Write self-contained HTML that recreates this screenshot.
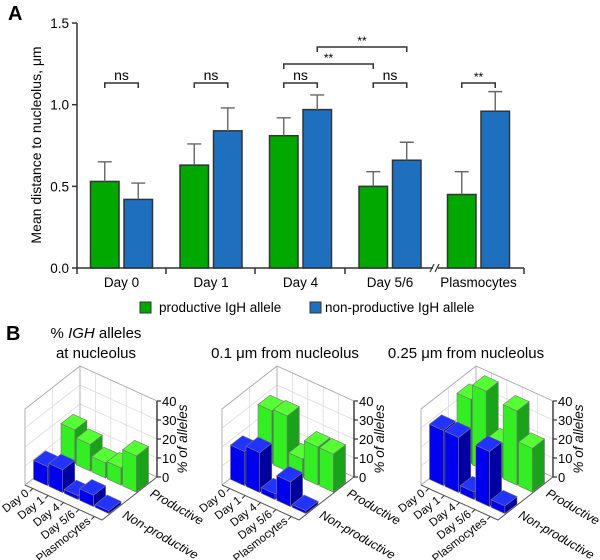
<!DOCTYPE html>
<html><head><meta charset="utf-8"><style>
html,body{margin:0;padding:0;background:#fff;}
svg{display:block;font-family:"Liberation Sans",sans-serif;}
</style></head><body>
<svg id="fig" width="600" height="560" viewBox="0 0 600 560" xmlns="http://www.w3.org/2000/svg">
<text x="8" y="20" font-size="20" font-weight="bold">A</text>
<text x="6" y="340" font-size="20" font-weight="bold">B</text>
<text transform="translate(41,145) rotate(-90)" text-anchor="middle" font-size="14">Mean distance to nucleolus, μm</text>
<g id="chartA"></g>
<g>
<rect x="140" y="302" width="11" height="11" fill="#00a800" stroke="#333"/>
<text x="159" y="312" font-size="13.5">productive IgH allele</text>
<rect x="310" y="302" width="11" height="11" fill="#1f6fbf" stroke="#333"/>
<text x="325" y="312" font-size="13.5">non-productive IgH allele</text>
</g>
<text x="96" y="338" text-anchor="middle" font-size="15">% <tspan font-style="italic">IGH</tspan> alleles</text>
<text x="96" y="358" text-anchor="middle" font-size="15">at nucleolus</text>
<text x="285" y="358" text-anchor="middle" font-size="15">0.1 μm from nucleolus</text>
<text x="466" y="358" text-anchor="middle" font-size="15">0.25 μm from nucleolus</text>
<g id="chartB"></g>
</svg>
<script>
// ---- Chart A data ----
const groups = ["Day 0","Day 1","Day 4","Day 5/6","Plasmocytes"];
const prodVals = [0.53,0.63,0.81,0.50,0.45];
const prodErr = [0.12,0.13,0.11,0.09,0.14];
const nonVals = [0.42,0.84,0.97,0.66,0.96];
const nonErr = [0.10,0.14,0.09,0.11,0.12];
const yTicks = [0.0,0.5,1.0,1.5];
const yTickLabels = ["0.0","0.5","1.0","1.5"];
const sigPairs = [[0,"ns"],[1,"ns"],[2,"ns"],[3,"ns"],[4,"**"]];

// ---- Chart B data ----
const days3d = ["Day 0","Day 1","Day 4","Day 5/6","Plasmocytes"];
const rows3d = ["Non-productive","Productive"];
const zTicks = [0,10,20,30,40];
const b1Prod = [18,14,8,9,19];
const b1Non = [10,12,2,6,1.5];
const b2Prod = [28,29,10,20,20];
const b2Non = [18,21,3,13,1.5];
const b3Prod = [34,42,18,39,23];
const b3Non = [29,29,4,29,4];

const NS="http://www.w3.org/2000/svg";
function mk(tag,attrs,parent){const e=document.createElementNS(NS,tag);for(const k in attrs)e.setAttribute(k,attrs[k]);parent.appendChild(e);return e;}

// ---- Chart A ----
const A=document.getElementById('chartA');
const y0=268, ppu=163.3;
function yS(v){return y0-v*ppu;}
function barLeft(i,s){
  const c = i<4 ? 77+89.5*i+44.5 : 478.5;
  return s===0 ? c-31 : c+2.5;
}
const bw=28.5;
let e=mk('line',{x1:77,y1:23,x2:77,y2:268,stroke:'#333','stroke-width':1.5},A);

yTicks.forEach((t,k)=>{
  let l=mk('line',{x1:72,x2:77,y1:yS(t),y2:yS(t),stroke:'#333','stroke-width':1.5},A);
  
  let tx=mk('text',{x:69,y:yS(t)+5,'text-anchor':'end','font-size':13.5},A);tx.textContent=yTickLabels[k];
  
});
e=mk('path',{d:'M77 268 H433 M438 268 H524',stroke:'#333','stroke-width':1.5,fill:'none'},A);

e=mk('path',{d:'M430 272 L434 264 M435 272 L439 264',stroke:'#333','stroke-width':1.2,fill:'none'},A);

[77,166,255,345,524].forEach(x=>{let l=mk('line',{x1:x,x2:x,y1:268,y2:274,stroke:'#333','stroke-width':1.5},A);
  });
groups.forEach((g,i)=>{
  const c=(barLeft(i,0)+barLeft(i,1)+bw)/2;
  let tx=mk('text',{x:c,y:287,'text-anchor':'middle','font-size':13.5},A);tx.textContent=g;
  
  [[prodVals,prodErr,'#00a800',0,'productive'],[nonVals,nonErr,'#1f6fbf',1,'nonproductive']].forEach(([v,er,col,s,nm])=>{
    const x=barLeft(i,s);
    let r=mk('rect',{x:x,y:yS(v[i]),width:bw,height:yS(0)-yS(v[i]),fill:col,stroke:'#333','stroke-width':1.5},A);
    
    let eb=mk('path',{d:`M${x+bw/2} ${yS(v[i])} V${yS(v[i]+er[i])} M${x+bw/2-7} ${yS(v[i]+er[i])} H${x+bw/2+7}`,stroke:'#666','stroke-width':1.4,fill:'none'},A);
    
  });
});
function bracket(x1,x2,y,label,nm,small){
  let p=mk('path',{d:`M${x1} ${y+5} V${y} H${x2} V${y+5}`,stroke:'#333','stroke-width':1.5,fill:'none'},A);
  
  let t=mk('text',{x:(x1+x2)/2,y:small?y-2:y-3,'text-anchor':'middle','font-size':small?12:14},A);t.textContent=label;
  
}
sigPairs.forEach(([i,lab])=>{
  bracket(barLeft(i,0)+bw/2,barLeft(i,1)+bw/2,83,lab,'sig-bracket-'+i,lab==='**');
});
bracket(barLeft(2,0)+bw/2,barLeft(3,0)+bw/2,64,'**','sig-bracket-day4-day56-prod',true);
bracket(barLeft(2,1)+bw/2,barLeft(3,1)+bw/2,47,'**','sig-bracket-day4-day56-non',true);

// ---- Chart B ----
const B=document.getElementById('chartB');
const Ax=25, Ay=485, dv=[15.4,7], rv=[27.5,-21.5], hz=1.9;
function P(off,d,r,h){return [Ax+off+d*dv[0]+r*rv[0], Ay+d*dv[1]+r*rv[1]-h*hz];}
function pts(a){return a.map(p=>p[0].toFixed(1)+','+p[1].toFixed(1)).join(' ');}
function panel(off,prod,non,idx){
  const g=mk('g',{},B);
  
  const gl=[];
  zTicks.forEach(z=>{gl.push([P(off,0,0,z),P(off,0,2,z),P(off,5,2,z)]);});
  for(let d=1;d<5;d++) gl.push([P(off,d,2,0),P(off,d,2,40)]);
  gl.push([P(off,0,1,0),P(off,0,1,40)]);
  gl.forEach(l=>{let pl=mk('polyline',{points:pts(l),fill:'none',stroke:'#ddd','stroke-width':0.8},g);
    });
  let fr=mk('polyline',{points:pts([P(off,0,0,0),P(off,0,0,40),P(off,0,2,40),P(off,5,2,40),P(off,5,2,0),P(off,0,2,0),P(off,0,0,0)]),fill:'none',stroke:'#aaa','stroke-width':0.9},g);
  
  let fl=mk('polyline',{points:pts([P(off,0,2,0),P(off,0,2,40)]),fill:'none',stroke:'#aaa','stroke-width':0.9},g);
  
  let fe=mk('polyline',{points:pts([P(off,0,0,0),P(off,5,0,0),P(off,5,2,0)]),fill:'none',stroke:'#555','stroke-width':1},g);
  
  let za=mk('polyline',{points:pts([P(off,5,2,0),P(off,5,2,40)]),fill:'none',stroke:'#333','stroke-width':1.4},g);
  
  zTicks.forEach(z=>{const p=P(off,5,2,z);
    let tk=mk('line',{x1:p[0],y1:p[1],x2:p[0]+4,y2:p[1],stroke:'#333','stroke-width':1.2},g);
    
    let t=mk('text',{x:p[0]+5,y:p[1]+5,'font-size':13},g);t.textContent=z;
    });
  const zp=P(off,5,2,20);
  let zt=mk('text',{transform:`translate(${zp[0]+30},${zp[1]}) rotate(-90)`,'text-anchor':'middle','font-size':13.5,'font-style':'italic'},g);
  zt.textContent='% of alleles';
  days3d.forEach((d,i)=>{const p=P(off,i+0.5,0,0);
    let tk=mk('line',{x1:p[0],y1:p[1],x2:p[0]-3,y2:p[1]+3,stroke:'#333'},g);
    
    let t=mk('text',{transform:`translate(${p[0]-3},${p[1]+6}) rotate(-38)`,'text-anchor':'end','font-size':11.5},g);t.textContent=d;
    });
  rows3d.forEach((r,k)=>{const p=P(off,5,k+0.5,0);
    let t=mk('text',{transform:`translate(${p[0]+6},${p[1]+8}) rotate(30)`,'font-size':12.5,'font-style':'italic'},g);t.textContent=r;
    });
  [[prod,1,['#55ff33','#33ee22','#1aa31a'],'productive'],[non,0,['#2233ff','#0000ee','#0000a0'],'nonproductive']].forEach(([vals,r,cols,nm])=>{
    vals.forEach((v,i)=>{
      const d0=i+0.05,d1=i+0.95,r0=r+0.28,r1=r+0.72;
      const bg=mk('g',{},g);
      
      mk('polygon',{points:pts([P(off,d0,r0,0),P(off,d1,r0,0),P(off,d1,r0,v),P(off,d0,r0,v)]),fill:cols[1],stroke:'#777','stroke-width':0.6},bg);
      mk('polygon',{points:pts([P(off,d1,r0,0),P(off,d1,r1,0),P(off,d1,r1,v),P(off,d1,r0,v)]),fill:cols[2],stroke:'#777','stroke-width':0.6},bg);
      mk('polygon',{points:pts([P(off,d0,r0,v),P(off,d1,r0,v),P(off,d1,r1,v),P(off,d0,r1,v)]),fill:cols[0],stroke:'#777','stroke-width':0.6},bg);
    });
  });
}
panel(0,b1Prod,b1Non,1);
panel(197,b2Prod,b2Non,2);
panel(396,b3Prod,b3Non,3);
</script>
</body></html>
